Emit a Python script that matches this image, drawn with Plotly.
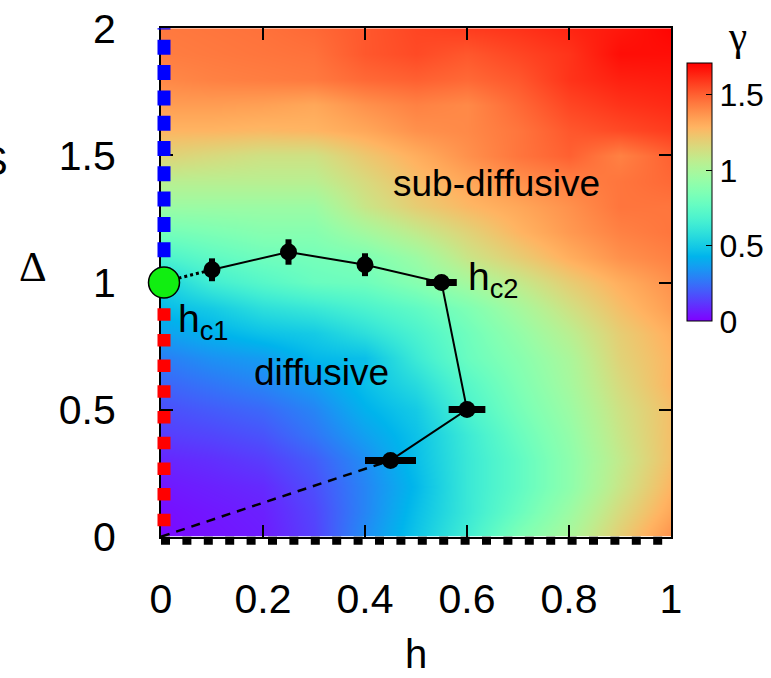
import math
import plotly.graph_objects as go

# ---------------------------------------------------------------------------
# Data
# ---------------------------------------------------------------------------
# exponent gamma on the (h, Delta) grid; rows run from Delta = 0 (bottom) to 2 (top)
h_grid = [0.0, 0.1, 0.2, 0.3, 0.4, 0.5, 0.6, 0.7, 0.8, 0.9, 1.0]
delta_grid = [0.0, 0.1, 0.2, 0.3, 0.4, 0.5, 0.6, 0.7, 0.8, 0.9, 1.0,
              1.1, 1.2, 1.3, 1.4, 1.5, 1.6, 1.7, 1.8, 1.9, 2.0]
gamma = [
    [0.02, 0.04, 0.06, 0.14, 0.32, 0.48, 0.65, 0.85, 1.00, 1.20, 1.38],
    [0.03, 0.05, 0.07, 0.15, 0.30, 0.46, 0.62, 0.78, 0.95, 1.15, 1.32],
    [0.05, 0.07, 0.09, 0.17, 0.30, 0.44, 0.62, 0.75, 0.90, 1.10, 1.28],
    [0.08, 0.10, 0.13, 0.20, 0.32, 0.46, 0.62, 0.75, 0.90, 1.08, 1.25],
    [0.13, 0.15, 0.18, 0.26, 0.37, 0.47, 0.63, 0.78, 0.92, 1.10, 1.25],
    [0.17, 0.20, 0.23, 0.30, 0.42, 0.50, 0.68, 0.82, 0.95, 1.12, 1.25],
    [0.22, 0.26, 0.30, 0.36, 0.46, 0.56, 0.72, 0.85, 0.98, 1.15, 1.28],
    [0.28, 0.33, 0.36, 0.44, 0.46, 0.63, 0.78, 0.88, 1.00, 1.18, 1.28],
    [0.37, 0.42, 0.47, 0.50, 0.58, 0.68, 0.80, 0.92, 1.05, 1.20, 1.30],
    [0.45, 0.50, 0.58, 0.62, 0.68, 0.75, 0.85, 0.98, 1.12, 1.25, 1.35],
    [0.52, 0.65, 0.72, 0.78, 0.80, 0.88, 0.98, 1.08, 1.20, 1.30, 1.38],
    [0.68, 0.75, 0.80, 0.82, 0.85, 0.95, 1.10, 1.20, 1.30, 1.38, 1.42],
    [0.82, 0.85, 0.88, 0.88, 0.98, 1.08, 1.18, 1.28, 1.36, 1.42, 1.45],
    [0.95, 0.95, 0.95, 0.95, 1.10, 1.20, 1.27, 1.32, 1.38, 1.45, 1.45],
    [1.05, 1.05, 1.05, 1.05, 1.15, 1.25, 1.32, 1.38, 1.42, 1.45, 1.48],
    [1.18, 1.15, 1.12, 1.12, 1.22, 1.30, 1.38, 1.45, 1.50, 1.42, 1.50],
    [1.28, 1.28, 1.27, 1.28, 1.32, 1.38, 1.40, 1.45, 1.52, 1.55, 1.58],
    [1.35, 1.35, 1.34, 1.32, 1.38, 1.42, 1.40, 1.48, 1.56, 1.60, 1.62],
    [1.40, 1.42, 1.43, 1.44, 1.48, 1.50, 1.48, 1.52, 1.60, 1.64, 1.65],
    [1.43, 1.44, 1.45, 1.46, 1.52, 1.55, 1.52, 1.56, 1.60, 1.68, 1.68],
    [1.44, 1.45, 1.46, 1.48, 1.52, 1.56, 1.58, 1.60, 1.63, 1.66, 1.70],
]
gamma_min, gamma_max = 0.0, 1.71

# transition points h_c(Delta) with their error bars
hc_h = [0.10, 0.25, 0.40, 0.55, 0.60, 0.45]
hc_delta = [1.05, 1.12, 1.07, 1.00, 0.50, 0.30]
hc_err_delta = [0.045, 0.05, 0.045, 0.0, 0.0, 0.0]
hc_err_h = [0.0, 0.0, 0.0, 0.03, 0.036, 0.05]

# end points of the guide lines
hc1_point = ([0.0], [1.0])
dotted_link = ([0.0, 0.10], [1.0, 1.05])
dashed_link = ([0.0, 0.45], [0.0, 0.30])
red_edge = ([0.0, 0.0], [1.0, 0.0])
blue_edge = ([0.0, 0.0], [1.0, 2.0])
black_edge = ([0.0, 1.0], [0.0, 0.0])

x_ticks = [0, 0.2, 0.4, 0.6, 0.8, 1]
x_tick_text = ["0", "0.2", "0.4", "0.6", "0.8", "1"]
y_ticks = [0, 0.5, 1, 1.5, 2]
y_tick_text = ["0", "0.5", "1", "1.5", "2"]
cb_ticks = [0, 0.5, 1, 1.5]
cb_tick_text = ["0", "0.5", "1", "1.5"]

# ---------------------------------------------------------------------------
# Layout geometry (pixels)
# ---------------------------------------------------------------------------
W, H = 771, 678
PX_L, PX_R = 161.0, 671.0
PX_T, PX_B = 28.3, 536.7
X_RANGE = [0.0, 1.0]
Y_RANGE = [0.0, 2.0]
FONT = "Liberation Sans, Arial, Helvetica, sans-serif"
SYMBOL_FONT = "Liberation Serif, Times New Roman, serif"

sx = (PX_R - PX_L) / (X_RANGE[1] - X_RANGE[0])
sy = (PX_B - PX_T) / (Y_RANGE[1] - Y_RANGE[0])
# full-page overlay axes with the same scale, so edge marks are not clipped
x2_range = [X_RANGE[0] - PX_L / sx, X_RANGE[0] + (W - PX_L) / sx]
y2_range = [Y_RANGE[0] - (H - PX_B) / sy, Y_RANGE[0] + PX_B / sy]
EDGE_DROP = -4.0 / sy   # bottom dashes sit just under the frame
EDGE_SHIFT = 3.0 / sx   # left-edge marks sit just right of the frame


def px_x(p):
    return p / W


def px_y(p):
    return 1 - p / H


# rainbow palette (gnuplot rgbformulae 33,13,10)
def rainbow(t):
    r = min(1.0, abs(2 * t - 0.5))
    g = math.sin(math.pi * t)
    b = math.cos(math.pi * t / 2)
    return "rgb(%d,%d,%d)" % (round(255 * r), round(255 * g), round(255 * max(b, 0)))


colorscale = [[i / 40, rainbow(i / 40)] for i in range(41)]

fig = go.Figure()

fig.add_trace(go.Heatmap(
    x=h_grid, y=delta_grid, z=gamma, zsmooth="best",
    zmin=gamma_min, zmax=gamma_max, colorscale=colorscale,
    xaxis="x", yaxis="y", hoverinfo="skip",
    colorbar=dict(
        x=px_x(686.7), xanchor="left", xpad=0,
        y=px_y(63.3), yanchor="top", ypad=0,
        len=(321.7 - 63.3) / H, lenmode="fraction",
        thickness=25, thicknessmode="pixels",
        outlinewidth=1, outlinecolor="black",
        tickvals=cb_ticks, ticktext=cb_tick_text,
        ticks="inside", ticklen=6, tickwidth=1, tickcolor="black",
        tickfont=dict(family=FONT, size=32, color="black"),
    ),
))

edge_common = dict(mode="lines", xaxis="x2", yaxis="y2", hoverinfo="skip", showlegend=False)
fig.add_trace(go.Scatter(x=[v + EDGE_SHIFT for v in red_edge[0]], y=red_edge[1],
                         line=dict(color="#ff0000", width=13, dash="12.5px,13.2px"), **edge_common))
fig.add_trace(go.Scatter(x=[v + EDGE_SHIFT for v in blue_edge[0]], y=blue_edge[1],
                         line=dict(color="#0000ff", width=13, dash="15px,10.3px"), **edge_common))
fig.add_trace(go.Scatter(x=black_edge[0], y=[v + EDGE_DROP for v in black_edge[1]],
                         line=dict(color="black", width=8, dash="9px,12.4px"), **edge_common))
fig.add_trace(go.Scatter(x=dashed_link[0], y=dashed_link[1],
                         line=dict(color="black", width=2.5, dash="9px,7px"), **edge_common))
fig.add_trace(go.Scatter(x=dotted_link[0], y=dotted_link[1],
                         line=dict(color="black", width=3, dash="dot"), **edge_common))
fig.add_trace(go.Scatter(x=hc_h, y=hc_delta,
                         line=dict(color="black", width=2), **edge_common))
fig.add_trace(go.Scatter(
    x=hc_h, y=hc_delta, mode="markers", xaxis="x2", yaxis="y2",
    marker=dict(color="black", size=17, symbol="circle"),
    error_y=dict(type="data", array=hc_err_delta, visible=True, thickness=6, width=0, color="black"),
    error_x=dict(type="data", array=hc_err_h, visible=True, thickness=7, width=0, color="black"),
    hoverinfo="skip", showlegend=False, cliponaxis=False,
))
fig.add_trace(go.Scatter(
    x=[v + EDGE_SHIFT for v in hc1_point[0]], y=hc1_point[1], mode="markers", xaxis="x2", yaxis="y2",
    marker=dict(color="#11ee11", size=31, line=dict(color="black", width=1.5)),
    hoverinfo="skip", showlegend=False, cliponaxis=False,
))

axis_common = dict(
    showline=True, linecolor="black", linewidth=2, mirror="ticks",
    ticks="inside", ticklen=12, tickwidth=1.5, tickcolor="black",
    showgrid=False, zeroline=False,
    tickfont=dict(family=FONT, size=41, color="black"),
)

fig.update_layout(
    width=W, height=H,
    margin=dict(l=0, r=0, t=0, b=0, autoexpand=False),
    paper_bgcolor="white", plot_bgcolor="rgba(0,0,0,0)",
    showlegend=False,
    font=dict(family=FONT, color="black"),
    xaxis=dict(domain=[px_x(PX_L), px_x(PX_R)], range=X_RANGE, anchor="y",
               tickvals=x_ticks, ticktext=x_tick_text, ticklabelstandoff=25, **axis_common),
    yaxis=dict(domain=[px_y(PX_B), px_y(PX_T)], range=Y_RANGE, anchor="x",
               tickvals=y_ticks, ticktext=y_tick_text, ticklabelstandoff=35, **axis_common),
    xaxis2=dict(domain=[0, 1], range=x2_range, anchor="y2", visible=False),
    yaxis2=dict(domain=[0, 1], range=y2_range, anchor="x2", visible=False),
)

labels = [
    dict(text="sub-diffusive", xref="x", yref="y", x=0.657, y=1.39, size=37),
    dict(text="diffusive", xref="x", yref="y", x=0.315, y=0.645, size=37),
    dict(text="h<sub>c1</sub>", xref="x", yref="y", x=0.029, y=0.845, size=39, xanchor="left"),
    dict(text="h<sub>c2</sub>", xref="x", yref="y", x=0.598, y=1.01, size=39, xanchor="left"),
    dict(text="Δ", xref="paper", yref="paper", x=px_x(33), y=px_y(266), size=43, family=SYMBOL_FONT),
    dict(text="h", xref="paper", yref="paper", x=px_x(416), y=px_y(654), size=40),
    dict(text="γ", xref="paper", yref="paper", x=px_x(737), y=px_y(36), size=41, family=SYMBOL_FONT),
    dict(text="S", xref="paper", yref="paper", x=px_x(10), y=px_y(161), size=40, xanchor="right"),
]
for lab in labels:
    fig.add_annotation(
        text=lab["text"], xref=lab["xref"], yref=lab["yref"], x=lab["x"], y=lab["y"],
        xanchor=lab.get("xanchor", "center"), yanchor="middle", showarrow=False,
        font=dict(family=lab.get("family", FONT), size=lab["size"], color="black"),
    )

fig.write_html("out.html")
